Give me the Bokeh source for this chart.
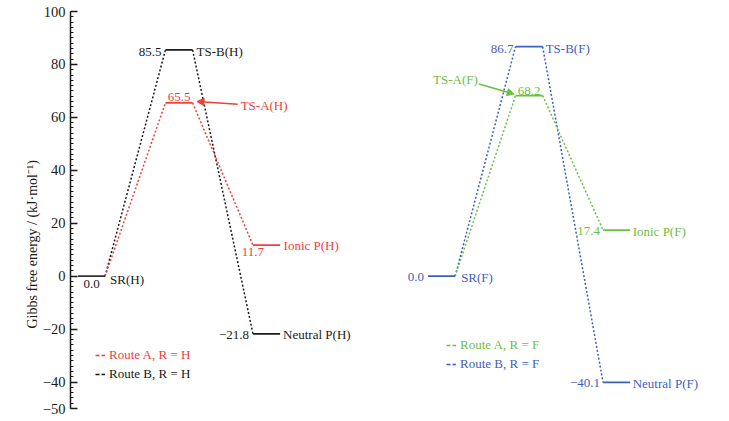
from bokeh.plotting import figure
from bokeh.models import (Range1d, FixedTicker, Arrow, NormalHead, Legend, LegendItem, Title)
from bokeh.core.properties import value
from bokeh.embed import file_html
from bokeh.resources import INLINE

# ---------------- data ----------------
stages = ["SR", "TS", "P"]
route_a_h = [0.0, 65.5, 11.7]
route_b_h = [0.0, 85.5, -21.8]
route_a_f = [0.0, 68.2, 17.4]
route_b_f = [0.0, 86.7, -40.1]
names_a_h = ["SR(H)", "TS-A(H)", "Ionic P(H)"]
names_b_h = ["SR(H)", "TS-B(H)", "Neutral P(H)"]
names_a_f = ["SR(F)", "TS-A(F)", "Ionic P(F)"]
names_b_f = ["SR(F)", "TS-B(F)", "Neutral P(F)"]
legend_labels = ["Route A, R = H", "Route B, R = H", "Route A, R = F", "Route B, R = F"]
y_ticks = [-50, -40, -20, 0, 20, 40, 60, 80, 100]
y_tick_labels = ["\u221250", "\u221240", "\u221220", "0", "20", "40", "60", "80", "100"]
y_label = "Gibbs free energy / (kJ\u00b7mol\u207b\u00b9)"

# ---------------- style ----------------
FONT = "Liberation Serif"
FS = "13px"
RED = "#f0403a"
BLACK = "#1a1a1a"
GREEN = "#6cbf45"
BLUE = "#3d5fbf"
HW = 0.155           # half width of a level (stage units)
H_BASE, F_BASE = 0, 4  # panel offsets (stage units)

p = figure(width=725, height=418, output_backend="svg", toolbar_location=None,
           x_range=Range1d(-0.24, 7.21), y_range=Range1d(-50, 100),
           x_axis_location=None, min_border_left=70, min_border_right=3,
           min_border_top=11, min_border_bottom=10)
p.outline_line_color = None
p.grid.visible = False
p.background_fill_color = "white"

ax = p.yaxis[0]
ax.ticker = FixedTicker(ticks=y_ticks, minor_ticks=list(range(-50, 101, 2)))
ax.major_label_overrides = {t: l for t, l in zip(y_ticks, y_tick_labels)}
ax.major_label_text_font = FONT
ax.major_label_text_font_size = "14.5px"
ax.major_label_text_color = BLACK
ax.major_label_standoff = 5
ax.axis_line_width = 1.5
ax.axis_line_color = BLACK
ax.major_tick_in = 7
ax.major_tick_out = 0
ax.minor_tick_in = 3
ax.minor_tick_out = 0
ax.major_tick_line_width = 1.5
ax.minor_tick_line_width = 1.2
ax.major_tick_line_color = BLACK
ax.minor_tick_line_color = BLACK

# y-axis title (placed a little below the frame centre, as in the original)
p.add_layout(Title(text=y_label, align="left", offset=80, standoff=0,
                   text_font=FONT, text_font_size="14px",
                   text_font_style="normal", text_color=BLACK), "left")


def connectors(vals, base, color):
    x0 = [base + i + HW for i in range(len(vals) - 1)]
    x1 = [base + i + 1 - HW for i in range(len(vals) - 1)]
    p.segment(x0=x0, y0=vals[:-1], x1=x1, y1=vals[1:], line_color=color,
              line_width=1.5, line_dash="2 2")


def level(idx, val, base, color):
    p.segment(x0=[base + idx - HW], y0=[val], x1=[base + idx + HW], y1=[val],
              line_color=color, line_width=1.8)


def lab(x, y, txt, color, align, baseline, dx=0, dy=0):
    p.text(x=[x], y=[y], text=[txt], text_color=color, text_align=align,
           text_baseline=baseline, x_offset=dx, y_offset=dy,
           text_font=value(FONT), text_font_size=FS)


def fmt(v):
    return f"{v:.1f}".replace("-", "\u2212")


# connectors (dotted)
connectors(route_b_h, H_BASE, BLACK)
connectors(route_a_h, H_BASE, RED)
connectors(route_b_f, F_BASE, BLUE)
connectors(route_a_f, F_BASE, GREEN)

# levels
level(0, route_a_h[0], H_BASE, "#333333")
level(1, route_b_h[1], H_BASE, BLACK)
level(1, route_a_h[1], H_BASE, RED)
level(2, route_a_h[2], H_BASE, RED)
level(2, route_b_h[2], H_BASE, BLACK)
level(0, route_a_f[0], F_BASE, BLUE)
level(1, route_b_f[1], F_BASE, BLUE)
level(1, route_a_f[1], F_BASE, GREEN)
level(2, route_a_f[2], F_BASE, GREEN)
level(2, route_b_f[2], F_BASE, BLUE)

# ---- labels, R = H ----
lab(H_BASE + 0, route_a_h[0], fmt(route_a_h[0]), BLACK, "center", "top", 0, 4)
lab(H_BASE + 0 + HW, route_a_h[0], names_a_h[0], BLACK, "left", "middle", 5, 3)
lab(H_BASE + 1 - HW, route_b_h[1], fmt(route_b_h[1]), BLACK, "right", "middle", -4, 2)
lab(H_BASE + 1 + HW, route_b_h[1], names_b_h[1], BLACK, "left", "middle", 4, 2)
lab(H_BASE + 1, route_a_h[1], fmt(route_a_h[1]), RED, "center", "bottom", 0, -2)
ax_tail_h = H_BASE + 1 + HW + 0.515
p.add_layout(Arrow(end=NormalHead(size=7, fill_color=RED, line_color=RED),
                   x_start=ax_tail_h, y_start=route_a_h[1] - 0.5,
                   x_end=H_BASE + 1 + HW + 0.05, y_end=route_a_h[1] + 0.5,
                   line_color=RED, line_width=1.5))
lab(ax_tail_h, route_a_h[1] - 0.5, names_a_h[1], RED, "left", "middle", 3, 1)
lab(H_BASE + 2 - HW, route_a_h[2], fmt(route_a_h[2]), RED, "center", "top", 0, 3)
lab(H_BASE + 2 + HW, route_a_h[2], names_a_h[2], RED, "left", "middle", 3.5, 0)
lab(H_BASE + 2 - HW, route_b_h[2], fmt(route_b_h[2]), BLACK, "right", "middle", -4, 1)
lab(H_BASE + 2 + HW, route_b_h[2], names_b_h[2], BLACK, "left", "middle", 3, 1)

# ---- labels, R = F ----
lab(F_BASE + 0 - HW, route_b_f[0], fmt(route_b_f[0]), BLUE, "right", "middle", -4, 1)
lab(F_BASE + 0 + HW, route_b_f[0], names_b_f[0], BLUE, "left", "middle", 6, 1)
lab(F_BASE + 1 - HW, route_b_f[1], fmt(route_b_f[1]), BLUE, "right", "middle", -2, 2)
lab(F_BASE + 1 + HW, route_b_f[1], names_b_f[1], BLUE, "left", "middle", 3, 2)
lab(F_BASE + 1, route_a_f[1], fmt(route_a_f[1]), GREEN, "center", "bottom", 0, -1)
ax_tail_f = F_BASE + 1 - HW - 0.42
p.add_layout(Arrow(end=NormalHead(size=7, fill_color=GREEN, line_color=GREEN),
                   x_start=ax_tail_f, y_start=route_a_f[1] + 4.4,
                   x_end=F_BASE + 1 - HW - 0.015, y_end=route_a_f[1] + 0.6,
                   line_color=GREEN, line_width=1.5))
lab(ax_tail_f, route_a_f[1] + 4.4, names_a_f[1], GREEN, "right", "middle", -1, -5)
lab(F_BASE + 2 - HW, route_a_f[2], fmt(route_a_f[2]), GREEN, "right", "middle", -3, 1)
lab(F_BASE + 2 + HW, route_a_f[2], names_a_f[2], GREEN, "left", "middle", 2.5, 1)
lab(F_BASE + 2 - HW, route_b_f[2], fmt(route_b_f[2]), BLUE, "right", "middle", -3, 1)
lab(F_BASE + 2 + HW, route_b_f[2], names_b_f[2], BLUE, "left", "middle", 2.5, 1)

# ---- legends (one per entry, so each label keeps its colour) ----
legend_specs = [
    (legend_labels[0], RED, (25, 45)),
    (legend_labels[1], BLACK, (25, 26)),
    (legend_labels[2], GREEN, (376, 55)),
    (legend_labels[3], BLUE, (376, 36)),
]
nan = float("nan")
for text, color, loc in legend_specs:
    r = p.line(x=[nan], y=[nan], line_color=color, line_width=1.5, line_dash="4 2")
    lg = Legend(items=[LegendItem(label=text, renderers=[r])], location=loc,
                padding=0, margin=0, spacing=0, border_line_color=None,
                background_fill_alpha=0, glyph_width=10, glyph_height=14,
                label_height=14, label_standoff=4, label_text_font=FONT,
                label_text_font_size=FS, label_text_color=color)
    p.add_layout(lg)

open("out.html", "w").write(file_html(p, INLINE))
